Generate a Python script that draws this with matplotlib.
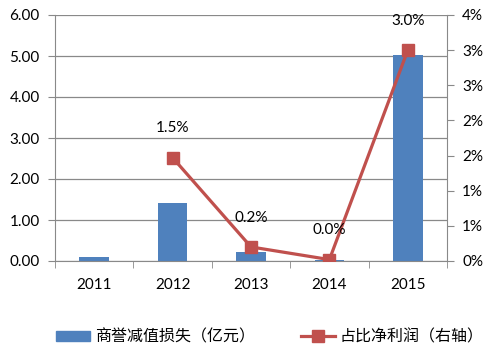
import numpy as np
import matplotlib.pyplot as plt
from matplotlib.patches import Patch
from matplotlib.lines import Line2D

plt.rcParams['font.family'] = ['Lato', 'Noto Sans CJK SC', 'DejaVu Sans']

years = ['2011', '2012', '2013', '2014', '2015']
impairment = [0.10, 1.42, 0.22, 0.03, 5.02]
ratio = [1.47, 0.20, 0.02, 3.00]
ratio_years = [1, 2, 3, 4]
ratio_labels = ['1.5%', '0.2%', '0.0%', '3.0%']

blue = '#4F81BD'
red = '#C0504D'
grey = '#898989'

fig = plt.figure(figsize=(4.97, 3.53), dpi=100)
ax = fig.add_axes([55 / 497, 1 - 261 / 353, 392 / 497, 246 / 353])
x = np.arange(len(years))

ax.bar(x, impairment, width=0.38, color=blue, zorder=2)
ax.set_xlim(-0.5, 4.5)
ax.set_ylim(0, 6)
ax.set_yticks(np.arange(0, 6.01, 1))
ax.set_yticklabels([f'{v:.2f}' for v in np.arange(0, 6.01, 1)], fontsize=11)
ax.yaxis.grid(True, color=grey, linewidth=0.9, zorder=0)
ax.set_axisbelow(True)
ax.set_xticks(x)
ax.set_xticklabels(years, fontsize=11)
ax.set_xticks(np.arange(-0.5, 4.6, 1), minor=True)
ax.tick_params(axis='x', which='major', length=0, pad=12)
ax.tick_params(axis='x', which='minor', length=5, color=grey, direction='out')
ax.tick_params(axis='y', length=5, color=grey, direction='out', pad=6)
for s in ['top', 'right']:
    ax.spines[s].set_visible(False)
ax.spines['left'].set_color(grey)
ax.spines['bottom'].set_color(grey)

ax2 = ax.twinx()
ax2.plot(ratio_years, ratio, color=red, linewidth=2.3, marker='s',
         markersize=9, zorder=3)
for xi, yi, lab in zip(ratio_years, ratio, ratio_labels):
    ax2.annotate(lab, (xi, yi), xytext=(0, 16), textcoords='offset points',
                 ha='center', va='bottom', fontsize=11)
ax2.set_ylim(0, 3.5)
rt = np.arange(0, 3.51, 0.5)
ax2.set_yticks(rt)
ax2.set_yticklabels([f'{int(np.floor(v + 0.5))}%' for v in rt], fontsize=11)
ax2.tick_params(axis='y', length=5, color=grey, direction='out', pad=6)
for s in ['top', 'left', 'bottom']:
    ax2.spines[s].set_visible(False)
ax2.spines['right'].set_color(grey)

handles = [Patch(color=blue, label='商誉减值损失（亿元）'),
           Line2D([], [], color=red, linewidth=2.3, marker='s', markersize=9,
                  label='占比净利润（右轴）')]
fig.legend(handles=handles, loc='center', ncol=2, frameon=False,
           bbox_to_anchor=(0.543, 0.045), handlelength=2.1, handleheight=0.6,
           columnspacing=2.9, handletextpad=0.3, borderpad=0,
           prop={'family': ['Noto Sans CJK SC'], 'size': 11.5})

fig.savefig('out.png', dpi=100)
